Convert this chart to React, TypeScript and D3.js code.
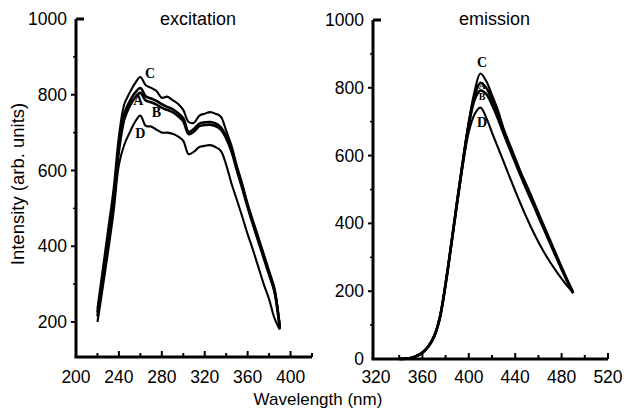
import React from "react";
import * as d3 from "d3";

// excitation spectra (nm vs arb. units)
const exWave = [220, 225, 230, 235, 240, 245, 250, 255, 260, 265, 270, 275, 280, 285, 290, 295, 300, 305, 310, 315, 320, 325, 330, 335, 340, 345, 350, 355, 360, 365, 370, 375, 380, 385, 390];
const exA = [225, 322, 425, 528, 665, 750, 782, 805, 818, 796, 790, 784, 775, 768, 762, 752, 738, 702, 710, 724, 727, 728, 724, 714, 690, 655, 605, 558, 508, 462, 418, 374, 330, 284, 185];
const exB = [215, 310, 412, 515, 652, 735, 770, 792, 805, 785, 780, 774, 766, 760, 754, 744, 730, 696, 703, 717, 720, 721, 717, 708, 685, 650, 600, 553, 503, 457, 413, 369, 325, 280, 182];
const exC = [235, 340, 445, 550, 690, 775, 805, 830, 847, 825, 818, 810, 792, 795, 786, 776, 760, 728, 726, 745, 750, 754, 750, 742, 705, 665, 612, 565, 512, 468, 424, 380, 335, 290, 190];
const exD = [200, 292, 388, 490, 615, 668, 700, 728, 745, 718, 716, 708, 700, 700, 697, 690, 678, 643, 650, 662, 665, 667, 662, 652, 615, 565, 522, 478, 432, 390, 345, 300, 260, 210, 180];

// emission spectra
const emWave = [340, 345, 350, 355, 360, 365, 370, 375, 380, 385, 390, 395, 400, 405, 410, 415, 420, 425, 430, 435, 440, 445, 450, 455, 460, 465, 470, 475, 480, 485, 490];
const emA = [0, 1, 3, 9, 19, 37, 66, 122, 222, 342, 466, 585, 695, 775, 815, 800, 765, 722, 675, 630, 587, 545, 505, 466, 425, 386, 346, 307, 268, 230, 195];
const emB = [0, 1, 3, 9, 18, 36, 65, 120, 220, 340, 463, 582, 690, 765, 792, 782, 750, 710, 665, 622, 580, 538, 498, 460, 420, 381, 342, 303, 265, 228, 194];
const emC = [0, 1, 3, 10, 20, 38, 68, 125, 225, 345, 470, 590, 700, 790, 842, 820, 778, 735, 680, 636, 593, 550, 512, 473, 432, 392, 352, 312, 272, 234, 198];
const emD = [0, 1, 3, 8, 18, 35, 64, 118, 218, 336, 458, 575, 670, 722, 742, 712, 668, 625, 582, 539, 496, 455, 416, 379, 345, 314, 286, 261, 237, 215, 195];

const names = ["A", "B", "C", "D"];
// label anchors (nm, intensity)
const exLabelNm = [258, 275, 269, 260];
const exLabelVal = [786, 752, 855, 697];
const emLabelNm = [411.5, 411.5, 411.5, 411.5];
const emLabelVal = [808, 775, 876, 698];

const exXTicks = [200, 240, 280, 320, 360, 400];
const exYTicks = [200, 400, 600, 800, 1000];
const emXTicks = [320, 360, 400, 440, 480, 520];
const emYTicks = [0, 200, 400, 600, 800, 1000];

const font = "'Liberation Sans', Arial, sans-serif";

function Panel(props: any) {
  const { title, wave, series, labelNm, labelVal, xTicks, yTicks, x, y, x0, x1, yBottom, labelSizes } = props;
  const line = d3
    .line<number>()
    .x((d, i) => x(wave[i]))
    .y((d) => y(d))
    .curve(d3.curveCatmullRom.alpha(0.5));
  const widths = [2.6, 2.6, 2.1, 2.1];
  const ax = x(x0);
  const minorX = d3.range(xTicks[0] + 20, x1 + 1, 40);
  const minorY = yTicks.slice(0, -1).map((t: number) => t + 100);
  return (
    <g>
      {series.map((s: number[], i: number) => (
        <path key={i} d={line(s) || ""} fill="none" stroke="#000" strokeWidth={widths[i]} strokeLinejoin="round" />
      ))}
      {names.map((n, i) => (
        <text
          key={n}
          x={x(labelNm[i])}
          y={y(labelVal[i])}
          textAnchor="middle"
          dominantBaseline="central"
          fontFamily="'Liberation Serif', 'Times New Roman', serif"
          fontWeight="bold"
          fontSize={labelSizes[i]}
        >
          {n}
        </text>
      ))}
      {/* axes */}
      <line x1={ax} x2={ax} y1={yBottom} y2={y(1000)} stroke="#000" strokeWidth={3} />
      <line x1={ax - 1.5} x2={x(x1)} y1={yBottom} y2={yBottom} stroke="#000" strokeWidth={3} />
      <line x1={ax} x2={ax + 8} y1={y(1000)} y2={y(1000)} stroke="#000" strokeWidth={3} />
      {yTicks.filter((t: number) => t < 1000 && y(t) < yBottom - 3).map((t: number) => (
        <line key={t} x1={ax - 5} x2={ax} y1={y(t)} y2={y(t)} stroke="#000" strokeWidth={2} />
      ))}
      {minorY.map((t: number) => (
        <line key={"m" + t} x1={ax - 3} x2={ax} y1={y(t)} y2={y(t)} stroke="#000" strokeWidth={1.5} />
      ))}
      {yTicks.map((t: number) => (
        <text key={"l" + t} x={ax - 9} y={y(t)} textAnchor="end" dominantBaseline="central" fontFamily={font} fontSize={17.5}>
          {t}
        </text>
      ))}
      {xTicks.slice(1).map((t: number) => (
        <line key={"x" + t} x1={x(t)} x2={x(t)} y1={yBottom} y2={yBottom - 6} stroke="#000" strokeWidth={2} />
      ))}
      {minorX.map((t: number) => (
        <line key={"xm" + t} x1={x(t)} x2={x(t)} y1={yBottom} y2={yBottom - 4} stroke="#000" strokeWidth={2} />
      ))}
      {xTicks.map((t: number) => (
        <text key={"xl" + t} x={x(t)} y={383} textAnchor="middle" fontFamily={font} fontSize={17.5}>
          {t}
        </text>
      ))}
      <text x={(x(x0) + x(x1)) / 2 + 4} y={25} textAnchor="middle" fontFamily={font} fontSize={18}>
        {title}
      </text>
    </g>
  );
}

export default function App() {
  const exX = d3.scaleLinear().domain([200, 420]).range([76, 312]);
  const exY = d3.scaleLinear().domain([200, 1000]).range([322, 19]);
  const emX = d3.scaleLinear().domain([320, 520]).range([376, 608]);
  const emY = d3.scaleLinear().domain([0, 1000]).range([359, 20]);
  return (
    <svg width={626} height={410} style={{ position: "absolute", left: 0, top: 0, background: "#fff" }}>
      <rect width={626} height={410} fill="#fff" />
      <Panel
        title="excitation"
        wave={exWave}
        series={[exA, exB, exC, exD]}
        labelNm={exLabelNm}
        labelVal={exLabelVal}
        xTicks={exXTicks}
        yTicks={exYTicks}
        x={exX}
        y={exY}
        x0={200}
        x1={420}
        yBottom={357}
        labelSizes={[14, 14, 14, 14]}
      />
      <Panel
        title="emission"
        wave={emWave}
        series={[emA, emB, emC, emD]}
        labelNm={emLabelNm}
        labelVal={emLabelVal}
        xTicks={emXTicks}
        yTicks={emYTicks}
        x={emX}
        y={emY}
        x0={317.4}
        x1={520}
        yBottom={359}
        labelSizes={[10, 10, 14, 14]}
      />
      <text
        transform="translate(24,184) rotate(-90)"
        textAnchor="middle"
        fontFamily={font}
        fontSize={18.5}
      >
        Intensity (arb. units)
      </text>
      <text x={318} y={405} textAnchor="middle" fontFamily={font} fontSize={17}>
        Wavelength (nm)
      </text>
    </svg>
  );
}
